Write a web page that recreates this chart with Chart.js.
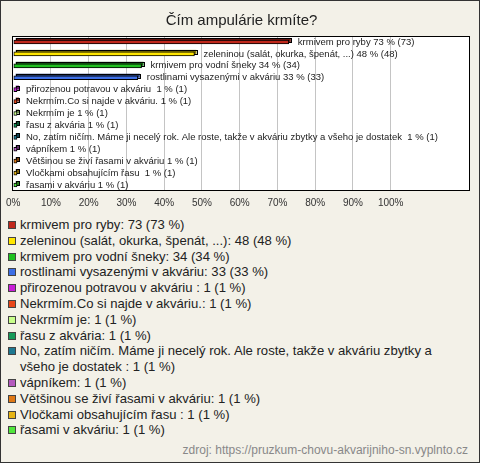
<!DOCTYPE html>
<html>
<head>
<meta charset="utf-8">
<script src="https://cdn.jsdelivr.net/npm/chart.js@4/dist/chart.umd.min.js"></script>
<style>
  html, body { margin: 0; padding: 0; background: #fff; }
  #wrap { position: relative; width: 480px; height: 463px; box-sizing: border-box; border: 1px solid #333; background: #f3f1e8; overflow: hidden; font-family: 'Liberation Sans', Arial, sans-serif; }
  #cv { position: absolute; left: -1px; top: -1px; }
  #legend { position: absolute; left: 7px; top: 216px; width: 452px; font-size: 13.1px; line-height: 15.8px; color: #222; }
  .li { position: relative; padding-left: 12px; }
  .sq { position: absolute; left: 0; top: 4px; width: 8px; height: 8px; box-sizing: border-box; border: 1px solid #444; }
  #src { position: absolute; right: 11px; top: 442px; font-size: 12px; line-height: 14px; color: #888; }
</style>
</head>
<body>
<div id="wrap">
  <canvas id="cv" width="480" height="215"></canvas>
  <div id="legend"></div>
  <div id="src">zdroj: https://pruzkum-chovu-akvarijniho-sn.vyplnto.cz</div>
</div>
<script>
const titleText = 'Čím ampulárie krmíte?';
const categories = [
  'krmivem pro ryby',
  'zeleninou (salát, okurka, špenát, ...)',
  'krmivem pro vodní šneky',
  'rostlinami vysazenými v akváriu',
  'přirozenou potravou v akváriu ',
  'Nekrmím.Co si najde v akváriu.',
  'Nekrmím je',
  'řasu z akvária',
  'No, zatím ničím. Máme ji necelý rok. Ale roste, takže v akváriu zbytky a všeho je dostatek ',
  'vápníkem',
  'Většinou se živí řasami v akváriu',
  'Vločkami obsahujícím řasu ',
  'řasami v akváriu'
];
const counts = [73, 48, 34, 33, 1, 1, 1, 1, 1, 1, 1, 1, 1];
const percents = [73, 48, 34, 33, 1, 1, 1, 1, 1, 1, 1, 1, 1];
const colors = ['#c0281c', '#ffe600', '#1ec01e', '#3c6ee6', '#c81ed8', '#e8461a', '#c8ff8c', '#169a5a', '#1e7891', '#b45abe', '#e07814', '#e6b414', '#50e63c'];
const xTickLabels = ['0%', '10%', '20%', '30%', '40%', '50%', '60%', '70%', '80%', '90%', '100%'];

function darker(hex, f) {
  const n = parseInt(hex.slice(1), 16);
  const r = Math.round(((n >> 16) & 255) * f), g = Math.round(((n >> 8) & 255) * f), b = Math.round((n & 255) * f);
  return 'rgb(' + r + ',' + g + ',' + b + ')';
}

const DEPTH = 2;
const plotPlugin = {
  id: 'plotDeco',
  beforeDraw(chart) {
    const a = chart.chartArea, ctx = chart.ctx;
    ctx.save();
    ctx.fillStyle = '#ffffff';
    ctx.fillRect(a.left, a.top, a.right - a.left, a.bottom - a.top);
    ctx.restore();
  },
  beforeDatasetsDraw(chart) {
    const a = chart.chartArea, ctx = chart.ctx;
    ctx.save();
    ctx.strokeStyle = '#000';
    ctx.lineWidth = 1;
    ctx.strokeRect(Math.round(a.left) - 0.5, Math.round(a.top) + 0.5, Math.round(a.right - a.left), Math.round(a.bottom - a.top) - 1);
    const meta = chart.getDatasetMeta(0);
    meta.data.forEach((el, i) => {
      const p = el.getProps(['x', 'y', 'base', 'height'], true);
      const x0 = Math.min(p.base, p.x), x1 = Math.max(p.base, p.x);
      const y0 = p.y - p.height / 2;
      ctx.fillStyle = darker(colors[i], 0.55);
      ctx.fillRect(x0 + DEPTH, y0 - DEPTH, x1 - x0, p.height);
      ctx.strokeStyle = '#000';
      ctx.strokeRect(Math.round(x0 + DEPTH) + 0.5, Math.round(y0 - DEPTH) + 0.5, Math.round(x1 - x0), Math.round(p.height));
    });
    ctx.restore();
  },
  afterDatasetsDraw(chart) {
    const ctx = chart.ctx;
    const meta = chart.getDatasetMeta(0);
    ctx.save();
    ctx.font = '9.5px "Liberation Sans", Arial, sans-serif';
    ctx.fillStyle = '#222';
    ctx.textBaseline = 'middle';
    ctx.textAlign = 'left';
    meta.data.forEach((el, i) => {
      const p = el.getProps(['x', 'y'], true);
      ctx.fillText(categories[i] + ' ' + percents[i] + ' % (' + counts[i] + ')', p.x + DEPTH + 7, p.y);
    });
    ctx.restore();
  }
};

new Chart(document.getElementById('cv'), {
  type: 'bar',
  data: {
    labels: categories,
    datasets: [{
      data: percents,
      backgroundColor: colors,
      borderColor: '#000',
      borderWidth: 1,
      borderSkipped: false,
      barThickness: 4
    }]
  },
  plugins: [plotPlugin],
  options: {
    indexAxis: 'y',
    responsive: false,
    animation: false,
    events: [],
    layout: { padding: { left: 13, right: 10, top: 0, bottom: 0 } },
    plugins: {
      legend: { display: false },
      tooltip: { enabled: false },
      title: {
        display: true,
        text: titleText,
        color: '#222',
        font: { family: '"Liberation Sans", Arial, sans-serif', size: 15, weight: 'normal' },
        padding: { top: 12, bottom: 6 }
      }
    },
    scales: {
      y: { display: false, grid: { display: false } },
      x: {
        type: 'linear',
        min: 0,
        max: 121,
        afterFit(scale) { scale.height = 24; },
        border: { display: false },
        grid: {
          drawTicks: false,
          color: (c) => (c.tick && c.tick.value > 0 && c.tick.value <= 100) ? '#c4c4c4' : 'rgba(0,0,0,0)'
        },
        ticks: {
          stepSize: 10,
          autoSkip: false,
          maxRotation: 0,
          padding: 6,
          color: '#333',
          font: { family: '"Liberation Sans", Arial, sans-serif', size: 10 },
          callback: (v) => (v <= 100 && v % 10 === 0) ? xTickLabels[v / 10] : ''
        }
      }
    }
  }
});

const leg = document.getElementById('legend');
categories.forEach((c, i) => {
  const d = document.createElement('div');
  d.className = 'li';
  const s = document.createElement('span');
  s.className = 'sq';
  s.style.background = colors[i];
  d.appendChild(s);
  d.appendChild(document.createTextNode(c + ': ' + counts[i] + ' (' + percents[i] + ' %)'));
  leg.appendChild(d);
});
</script>
</body>
</html>
